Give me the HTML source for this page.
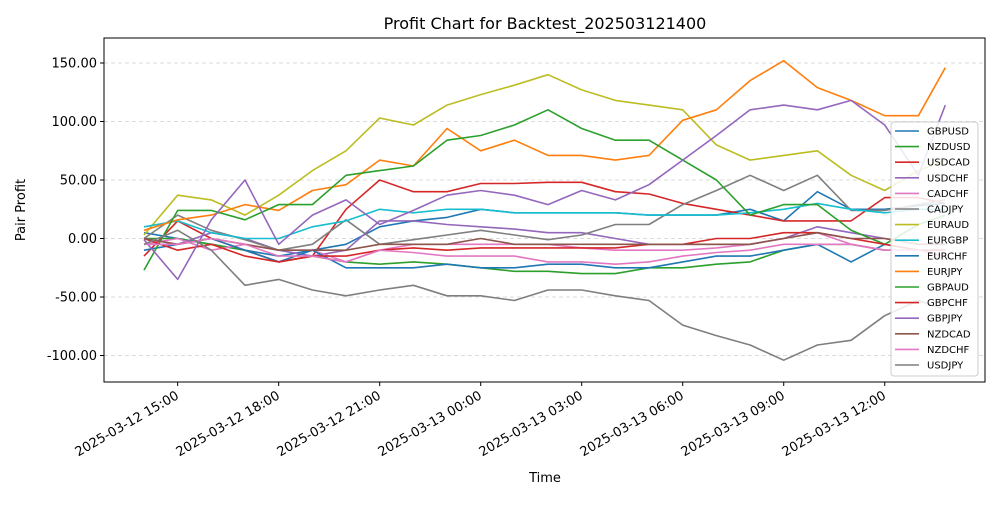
<!DOCTYPE html>
<html><head><meta charset="utf-8"><style>
body{margin:0;background:#fff;font-family:"Liberation Sans","DejaVu Sans",sans-serif}
svg text{font-family:"DejaVu Sans","Liberation Sans",sans-serif}
</style></head><body>
<svg id="c" width="1000" height="500"></svg>
<script>
const hours=[0,1,2,3,4,5,6,7,8,9,10,11,12,13,14,15,16,17,18,19,20,21,22,23,23.8];
const seriesNames=["GBPUSD","NZDUSD","USDCAD","USDCHF","CADCHF","CADJPY","EURAUD","EURGBP","EURCHF","EURJPY","GBPAUD","GBPCHF","GBPJPY","NZDCAD","NZDCHF","USDJPY"];
const seriesColors=["#1f77b4","#2ca02c","#d62728","#9467bd","#e377c2","#7f7f7f","#bcbd22","#17becf","#1f77b4","#ff7f0e","#2ca02c","#d62728","#9467bd","#8c564b","#e377c2","#7f7f7f"];
const GBPUSD=[5,0,-5,-10,-15,-10,-5,10,15,18,25,22,22,22,22,20,20,20,25,15,40,25,25,28,30];
const NZDUSD=[0,0,-5,-10,-20,-15,-20,-22,-20,-22,-25,-28,-28,-30,-30,-25,-25,-22,-20,-10,-5,-5,-10,-10,-10];
const USDCAD=[-15,15,0,-10,-20,-15,25,50,40,40,47,47,48,48,40,38,30,25,20,15,15,15,35,35,30];
const USDCHF=[0,-5,5,0,-10,-15,-10,15,15,12,10,8,5,5,0,-5,-5,-5,-5,0,10,5,0,-5,-5];
const CADCHF=[-5,0,-10,-5,-10,-10,-20,-10,-5,-5,-5,-5,-5,-8,-10,-10,-10,-8,-5,0,5,-5,-10,-10,-15];
const CADJPY=[0,20,7,-1,-10,-5,16,-5,-1,3,7,3,-1,3,12,12,29,41,54,41,54,24,24,29,33];
const EURAUD=[3,37,33,20,37,58,75,103,97,114,123,131,140,127,118,114,110,80,67,71,75,54,41,58,67];
const EURGBP=[10,15,5,0,0,10,15,25,22,25,25,22,22,22,22,20,20,20,22,25,30,25,22,25,25];
const EURCHF=[-10,-5,0,-10,-20,-10,-25,-25,-25,-22,-25,-25,-22,-22,-25,-25,-20,-15,-15,-10,-5,-20,-5,-10,-10];
const EURJPY=[7,16,20,29,24,41,46,67,62,94,75,84,71,71,67,71,101,110,135,152,129,118,105,105,146];
const GBPAUD=[-27,24,24,16,29,29,54,58,62,84,88,97,110,94,84,84,67,50,20,29,29,7,-5,12,20];
const GBPCHF=[0,-10,-5,-15,-20,-15,-15,-10,-8,-10,-8,-8,-8,-8,-8,-5,-5,0,0,5,5,0,-5,-10,-10];
const GBPJPY=[-1,-35,16,50,-5,20,33,12,24,37,41,37,29,41,33,46,67,88,110,114,110,118,97,54,114];
const NZDCAD=[0,-5,0,-5,-10,-10,-10,-5,-5,-5,0,-5,-5,-5,-5,-5,-5,-5,-5,0,5,0,0,-5,-5];
const NZDCHF=[-5,-5,0,-5,-15,-15,-20,-10,-12,-15,-15,-15,-20,-20,-22,-20,-15,-12,-10,-5,-5,-5,-10,-10,-15];
const USDJPY=[-5,7,-10,-40,-35,-44,-49,-44,-40,-49,-49,-53,-44,-44,-49,-53,-74,-83,-91,-104,-91,-87,-66,-53,-61];
const seriesValues=[GBPUSD,NZDUSD,USDCAD,USDCHF,CADCHF,CADJPY,EURAUD,EURGBP,EURCHF,EURJPY,GBPAUD,GBPCHF,GBPJPY,NZDCAD,NZDCHF,USDJPY];
const yTicks=[-100,-50,0,50,100,150];
const xTickHours=[1,4,7,10,13,16,19,22];
const xTickLabels=["2025-03-12 15:00","2025-03-12 18:00","2025-03-12 21:00","2025-03-13 00:00","2025-03-13 03:00","2025-03-13 06:00","2025-03-13 09:00","2025-03-13 12:00"];

const NS="http://www.w3.org/2000/svg";
const svg=document.getElementById('c');
const L=104,R=985,T=38,B=382;
const xs=h=>144+h*33.67;
const ys=v=>238.5-v*1.17;
function mk(tag,attrs,parent){const e=document.createElementNS(NS,tag);for(const k in attrs)e.setAttribute(k,attrs[k]);(parent||svg).appendChild(e);return e;}

yTicks.forEach(v=>{
  const g=mk('line',{x1:L,x2:R,y1:ys(v),y2:ys(v),stroke:'#d0d0d0','stroke-dasharray':'4,3','stroke-width':0.8});
  
  
  const t=mk('line',{x1:L-4,x2:L,y1:ys(v),y2:ys(v),stroke:'#000'});
  
  
  const tx=mk('text',{x:L-7,y:ys(v)+4.5,'text-anchor':'end','font-size':13});
  tx.textContent=v.toFixed(2);
  
  
});
xTickHours.forEach((h,i)=>{
  const x=xs(h);
  const t=mk('line',{x1:x,x2:x,y1:B,y2:B+4,stroke:'#000'});
  
  
  const tx=mk('text',{x:x+2,y:B+16,'text-anchor':'end','font-size':13,transform:`rotate(-30 ${x+2} ${B+16})`});
  tx.textContent=xTickLabels[i];
  
  
});
seriesValues.forEach((vals,i)=>{
  const d=vals.map((v,j)=>(j?'L':'M')+xs(hours[j]).toFixed(1)+','+ys(v).toFixed(1)).join(' ');
  const p=mk('path',{d:d,fill:'none',stroke:seriesColors[i],'stroke-width':1.6,'stroke-linejoin':'round'});
  
  
});
const fr=mk('rect',{x:L,y:T,width:R-L,height:B-T,fill:'none',stroke:'#000','stroke-width':1});


const title=mk('text',{x:545,y:29,'text-anchor':'middle','font-size':16});
title.textContent='Profit Chart for Backtest_202503121400';


const xl=mk('text',{x:545,y:482,'text-anchor':'middle','font-size':13});
xl.textContent='Time';


const yl=mk('text',{x:25,y:210,'text-anchor':'middle','font-size':13,transform:'rotate(-90 25 210)'});
yl.textContent='Pair Profit';


const lg=mk('g',{});


mk('rect',{x:891,y:122,width:87,height:254,fill:'#fff','fill-opacity':0.85,stroke:'#ccc',rx:3},lg);
seriesNames.forEach((n,i)=>{
  const y=131+i*15.6;
  const e=mk('g',{},lg);
  
  
  mk('line',{x1:895,x2:919,y1:y,y2:y,stroke:seriesColors[i],'stroke-width':1.6},e);
  const t=mk('text',{x:927,y:y+3.5,'font-size':10},e);
  t.textContent=n;
});
</script>
</body></html>
